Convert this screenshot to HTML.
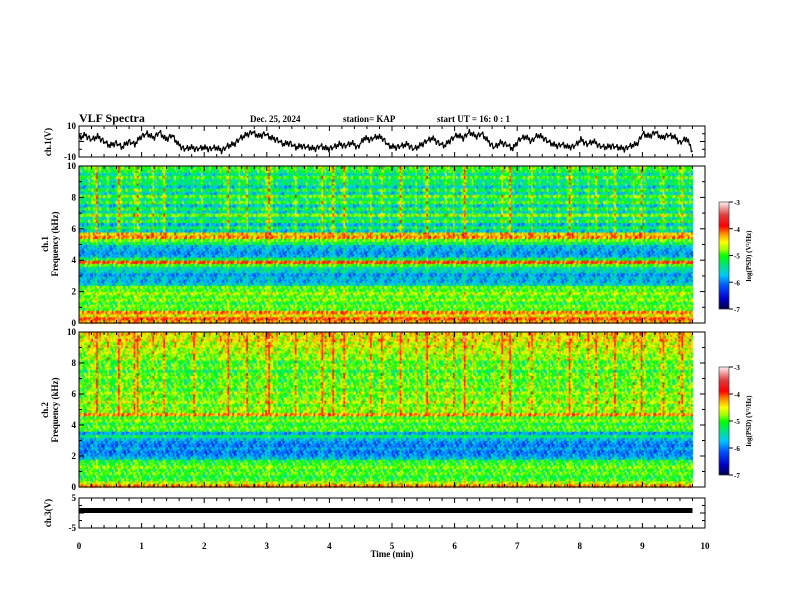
<!DOCTYPE html>
<html><head><meta charset="utf-8">
<style>
body{margin:0;background:#fff;}
#wrap{position:relative;width:792px;height:612px;overflow:hidden;background:#fff;}
canvas{position:absolute;left:0;top:0;}
svg{position:absolute;left:0;top:0;}
text{font-family:"Liberation Serif",serif;font-weight:bold;fill:#000;}
</style></head><body>
<div id="wrap">
<canvas id="cv" width="792" height="612"></canvas>
<svg id="sv" width="792" height="612">
<text x="79" y="122" font-size="12">VLF Spectra</text>
<text x="250" y="122" font-size="9">Dec. 25, 2024</text>
<text x="343" y="122" font-size="9">station= KAP</text>
<text x="437" y="122" font-size="9">start  UT =   16: 0  : 1</text>
<text x="392" y="557" font-size="9" text-anchor="middle">Time  (min)</text>
<text transform="translate(51,142) rotate(-90)" font-size="9" text-anchor="middle">ch.1(V)</text>
<text transform="translate(48,244) rotate(-90)" font-size="9" text-anchor="middle">ch.1</text>
<text transform="translate(58,244) rotate(-90)" font-size="9" text-anchor="middle">Frequency  (kHz)</text>
<text transform="translate(48,410) rotate(-90)" font-size="9" text-anchor="middle">ch.2</text>
<text transform="translate(58,410) rotate(-90)" font-size="9" text-anchor="middle">Frequency  (kHz)</text>
<text transform="translate(51,513) rotate(-90)" font-size="9" text-anchor="middle">ch.3(V)</text>
<text transform="translate(751,256) rotate(-90)" font-size="7" text-anchor="middle">log(PSD) (V²/Hz)</text>
<text transform="translate(751,421) rotate(-90)" font-size="7" text-anchor="middle">log(PSD) (V²/Hz)</text>
</svg>
</div>
<script>
const xTicks=[0,1,2,3,4,5,6,7,8,9,10];
const ch1Vals=[2,4,1,3,0,-3,-1,-4,0,-2,3,5,2,6,1,4,-2,-5,-4,-5,-4,-5,-4,-6,-3,-2,2,4,6,3,5,2,1,-2,-1,-4,-3,-4,-5,-3,-5,-4,-2,-3,-1,-4,2,1,3,2,-3,-4,-3,-2,-5,-3,0,2,-1,-3,1,4,2,6,3,5,0,-4,-1,-2,-5,1,3,0,4,2,-1,-3,-2,-4,-3,1,-2,0,-3,-4,-3,-4,-5,-3,-2,5,3,6,2,4,3,-1,2,-6];
const freqProfile1=[-4.3,-4.0,-4.5,-4.2,-5.0,-4.9,-5.1,-4.8,-5.0,-4.7,-5.0,-4.9,-5.6,-5.8,-5.7,-5.9,-5.6,-5.5,-5.0,-4.0,-5.2,-5.8,-5.9,-5.8,-5.7,-5.2,-4.9,-4.2,-4.6,-5.8,-5.4,-5.9,-5.3,-5.6,-5.0,-5.7,-5.3,-5.8,-5.2,-5.5,-5.1,-5.7,-5.3,-5.8,-5.4,-5.5,-5.2,-5.6,-5.3,-5.2];
const freqProfile2=[-4.2,-4.6,-5.0,-5.1,-4.9,-5.0,-4.8,-5.0,-5.1,-5.7,-5.9,-6.0,-5.8,-6.0,-5.9,-5.7,-5.3,-5.8,-5.0,-4.9,-5.1,-4.8,-5.0,-4.2,-5.0,-4.9,-5.1,-4.8,-5.0,-5.1,-4.9,-5.2,-5.0,-5.1,-5.2,-5.0,-5.1,-5.3,-5.0,-5.1,-5.2,-4.9,-5.0,-4.8,-4.9,-4.7,-4.8,-4.6,-4.7,-4.6];
const bursts1=[0.3,0.5,1.4,0.4,0.6,0.2,1.3,0.5,0.8,1.2,0.3,0.9,0.4,1.0,0.2,0.5,0.3,0.2,0.4,0.6,0.3,0.2,0.5,1.1,0.4,0.7,1.0,0.3,0.5,0.8,1.4,0.4,0.2,0.3,0.9,0.3,0.5,0.4,1.0,0.6,1.3,0.4,1.1,0.3,0.5,0.4,0.8,0.3,0.9,0.5,0.3,1.2,0.4,0.6,0.3,1.3,0.5,0.4,0.7,0.9,0.3,1.4,0.6,0.5,0.4,0.3,0.5,0.9,1.3,0.4,0.3,0.6,0.8,0.4,0.5,0.3,0.6,0.4,1.4,0.5,0.3,0.7,0.9,0.4,0.6,1.0,0.3,0.4,0.8,1.2,0.5,0.3,0.6,1.0,0.4,0.7,0.9,0.5];
const bursts2=[0.4,0.6,1.2,0.5,0.7,0.3,1.3,0.6,1.0,1.2,0.4,0.8,0.5,0.9,0.3,0.6,0.4,0.3,1.0,0.5,0.4,0.3,0.6,1.2,0.5,0.6,1.1,0.4,0.6,0.9,1.3,0.5,0.3,0.4,1.0,0.4,0.6,0.5,1.1,0.7,1.2,0.5,1.0,0.4,0.6,0.5,0.9,0.4,1.0,0.6,0.4,1.1,0.5,0.7,0.4,1.2,0.6,0.5,0.8,1.0,0.4,1.3,0.7,0.6,0.5,0.4,0.6,1.0,1.2,0.5,0.4,0.7,0.9,0.5,0.6,0.4,0.7,0.5,1.3,0.6,0.4,0.8,1.0,0.5,0.7,1.1,0.4,0.5,0.9,1.2,0.6,0.4,0.7,1.0,0.5,0.8,1.0,0.6];
const texture=[0,0.35,-0.3,0.15,-0.2,0.4,-0.1,0.25,-0.35,0.1,0.3,-0.25,0.05];

const X0=79,X1=705;
const xs=t=>X0+(t/10)*(X1-X0);
const P1={top:126,bot:157}, S1={top:166,bot:323}, S2={top:332,bot:487}, P3={top:498,bot:528};
const cv=document.getElementById('cv'),ctx=cv.getContext('2d');
const stops=[[0,[0,0,64]],[0.1,[0,0,200]],[0.22,[0,80,255]],[0.32,[0,200,255]],[0.42,[0,230,120]],[0.5,[0,255,0]],[0.56,[160,255,0]],[0.63,[255,255,0]],[0.71,[255,140,0]],[0.78,[255,0,0]],[0.88,[220,60,60]],[1,[255,235,235]]];
function cmap(v){let t=Math.max(0,Math.min(1,(v+7)/4));for(let k=1;k<stops.length;k++){if(t<=stops[k][0]){const a=stops[k-1],b=stops[k],f=(t-a[0])/(b[0]-a[0]);return 'rgb('+a[1].map((c,i)=>Math.round(c+(b[1][i]-c)*f)).join(',')+')';}}return 'rgb(255,235,235)';}
function spec(P,fp,bu,hiRow,off){
  const nT=bu.length,nF=fp.length,tEnd=9.8,SUB=4,RS=2;
  const h=(P.bot-P.top)/(nF*RS);
  for(let j=0;j<nT;j++){
    for(let s=0;s<SUB;s++){
      const xa=xs((j+s/SUB)*tEnd/nT),xb=xs((j+(s+1)/SUB)*tEnd/nT);
      const bs=(s==(j%3)+1)?bu[j]:bu[j]*0.4;
      for(let i=0;i<nF;i++){
        const w=i>=hiRow?1:0.3;
        for(let r=0;r<RS;r++){
          const v=fp[i]+bs*w+texture[(j*5+s*3+i*7+r*4)%texture.length]-off;
          ctx.fillStyle=cmap(v);
          ctx.fillRect(xa,P.bot-(i*RS+r+1)*h,xb-xa+0.6,h+0.6);
        }
      }
    }
  }
}
spec(S1,freqProfile1,bursts1,28,0.1);
spec(S2,freqProfile2,bursts2,24,0.15);
function cbar(top,bot){for(let y=top;y<bot;y++){ctx.fillStyle=cmap(-3-4*(y-top)/(bot-top));ctx.fillRect(719,y,10,1);}}
cbar(202,309);cbar(367,475);

const sv=document.getElementById('sv'),NS='http://www.w3.org/2000/svg';
function el(tag,attrs,parent){const e=document.createElementNS(NS,tag);for(const k in attrs)e.setAttribute(k,attrs[k]);(parent||sv).appendChild(e);return e;}
function frame(P,name){
  const r=el('rect',{x:X0,y:P.top,width:X1-X0,height:P.bot-P.top,fill:'none',stroke:'#000','stroke-width':1});
  
  
  for(let k=0;k<=50;k++){const x=xs(k*0.2),L=k%5==0?5:3;
    el('line',{x1:x,y1:P.top,x2:x,y2:P.top+L,stroke:'#000'});
    el('line',{x1:x,y1:P.bot,x2:x,y2:P.bot-L,stroke:'#000'});}
}
function yTicks(P,lo,hi,major,minor,labels){
  for(let v=lo;v<=hi+1e-9;v+=minor){const y=P.bot-(v-lo)/(hi-lo)*(P.bot-P.top);const isM=Math.abs(v/major-Math.round(v/major))<1e-6;const L=isM?5:3;
    el('line',{x1:X0,y1:y,x2:X0+L,y2:y,stroke:'#000'});el('line',{x1:X1,y1:y,x2:X1-L,y2:y,stroke:'#000'});}
  labels.forEach(v=>{const y=P.bot-(v-lo)/(hi-lo)*(P.bot-P.top);
    const t=el('text',{x:X0-3,y:y+3,'font-size':9,'text-anchor':'end'});t.textContent=v;
    
    });
}
frame(P1,'ch1-waveform-panel');yTicks(P1,-10,10,10,5,[10,-10]);
frame(S1,'ch1-spectrogram-panel');yTicks(S1,0,10,2,1,[0,2,4,6,8,10]);
frame(S2,'ch2-spectrogram-panel');yTicks(S2,0,10,2,1,[0,2,4,6,8,10]);
frame(P3,'ch3-waveform-panel');yTicks(P3,-5,5,5,2.5,[5,-5]);
const yv=v=>P1.bot-(v+10)/20*(P1.bot-P1.top);
let d='';const n=ch1Vals.length,SUBP=6;
for(let i=0;i<n-1;i++){for(let s=0;s<SUBP;s++){
  const v=ch1Vals[i]+(ch1Vals[i+1]-ch1Vals[i])*s/SUBP+texture[(i*SUBP+s)%texture.length]*6;
  d+=((i||s)?'L':'M')+xs((i+s/SUBP)*9.8/(n-1)).toFixed(1)+','+yv(Math.max(-10,Math.min(10,v))).toFixed(1);}}
d+='L'+xs(9.8).toFixed(1)+','+yv(ch1Vals[n-1]).toFixed(1);
const tr=el('path',{d:d,fill:'none',stroke:'#000','stroke-width':1.2,'stroke-linejoin':'bevel'});


const b3=el('rect',{x:X0,y:508,width:xs(9.8)-X0,height:5,fill:'#000'});


xTicks.forEach(t=>{const e=el('text',{x:xs(t),y:549,'font-size':9,'text-anchor':'middle'});e.textContent=t;
  
  });
function cbTicks(top,bot,name){
  const r=el('rect',{x:719,y:top,width:10,height:bot-top,fill:'none',stroke:'#000','stroke-width':0.5});
  
  
  [-3,-4,-5,-6,-7].forEach(v=>{const y=top+(-3-v)/4*(bot-top);
    el('line',{x1:729,y1:y,x2:733,y2:y,stroke:'#000'});
    const t=el('text',{x:734,y:y+3,'font-size':7});t.textContent=v;
    
    });
}
cbTicks(202,309,'colorbar-ch1');cbTicks(367,475,'colorbar-ch2');
</script>
</body></html>
